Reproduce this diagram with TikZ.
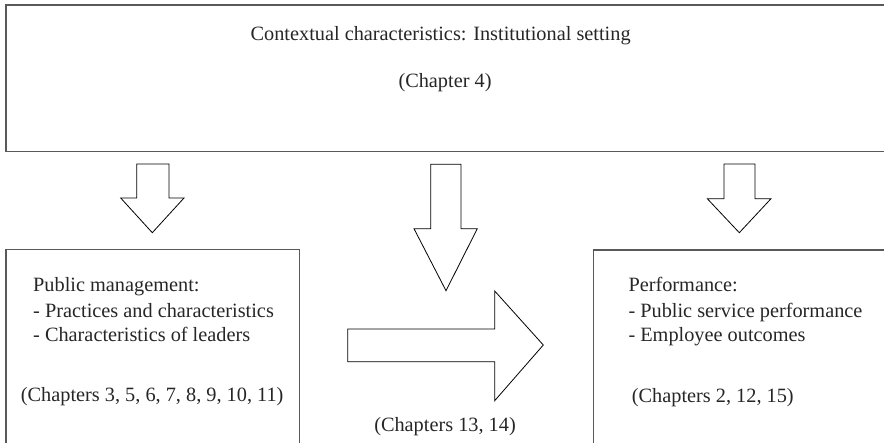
\documentclass[tikz,border=0pt]{standalone}
\usepackage{fontspec}
\setmainfont{Liberation Serif}
\begin{document}
\begin{tikzpicture}[x=1pt,y=-1pt,
  boxline/.style={draw=black!65, line width=1.4pt},
  fatarrow/.style={draw=black, line width=0.8pt, line join=miter, fill=white},
  txt/.style={inner sep=0pt, font=\fontsize{20.3}{24}\selectfont, text=black!85}]
\useasboundingbox (0,0) rectangle (884,443);
\clip (0,0) rectangle (884,443);
% boxes (cropped at the picture's edges)
\draw[boxline] (894,5) -- (6,5) -- (6,151.7) -- (894,151.7);
\draw[boxline] (6,453) -- (6,249.3) -- (299.3,249.3) -- (299.3,453);
\draw[boxline] (593.3,453) -- (593.3,250) -- (894,250);
% top texts
\node[txt, anchor=base] (t1) at (440.6,40.7) {Contextual characteristics: Institutional setting};
\node[txt, anchor=base] (t2) at (445,88) {(Chapter 4)};
% left texts
\node[txt, anchor=base west] (l1) at (33,291.7) {Public management:};
\node[txt, anchor=base west] (l2) at (33,318) {- Practices and characteristics};
\node[txt, anchor=base west] (l3) at (33,341.7) {- Characteristics of leaders};
\node[txt, anchor=base west] (l4) at (20.7,401.7) {(Chapters 3, 5, 6, 7, 8, 9, 10, 11)};
% right texts
\node[txt, anchor=base west] (r1) at (628.3,291.7) {Performance:};
\node[txt, anchor=base west] (r2) at (628.3,318) {- Public service performance};
\node[txt, anchor=base west] (r3) at (628.3,341.7) {- Employee outcomes};
\node[txt, anchor=base west] (r4) at (631.7,403) {(Chapters 2, 12, 15)};
% middle label
\node[txt, anchor=base] (m1) at (445,431.7) {(Chapters 13, 14)};
% arrows
\draw[fatarrow] (136.7,164) -- (169,164) -- (169,198) -- (184,198) -- (152.3,232.7) -- (120.7,198) -- (136.7,198) -- cycle;
\draw[fatarrow] (430.7,164.3) -- (461,164.3) -- (461,228.7) -- (477.3,228.7) -- (446,290.7) -- (414,228.7) -- (430.7,228.7) -- cycle;
\draw[fatarrow] (724,164) -- (755,164) -- (755,198.7) -- (771,198.7) -- (739.3,232.7) -- (707.3,198.7) -- (724,198.7) -- cycle;
\draw[fatarrow] (347.7,329) -- (494.7,329) -- (494.7,291) -- (543.3,345) -- (494.7,400.7) -- (494.7,361.7) -- (347.7,361.7) -- cycle;
\end{tikzpicture}
\end{document}
